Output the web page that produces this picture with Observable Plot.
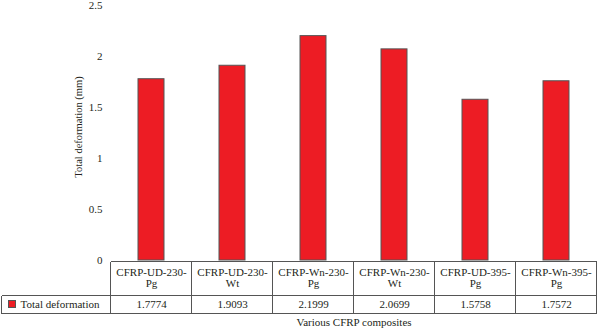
<!DOCTYPE html>
<html>
<head>
<meta charset="utf-8">
<script src="https://cdn.jsdelivr.net/npm/d3@7"></script>
<script src="https://cdn.jsdelivr.net/npm/@observablehq/plot@0.6"></script>
<style>
  html, body { margin: 0; padding: 0; background: #fff; }
</style>
</head>
<body>
<div id="chart"></div>
<script>
const categories = ["CFRP-UD-230-Pg", "CFRP-UD-230-Wt", "CFRP-Wn-230-Pg", "CFRP-Wn-230-Wt", "CFRP-UD-395-Pg", "CFRP-Wn-395-Pg"];
const headerLabels = ["CFRP-UD-230-\nPg", "CFRP-UD-230-\nWt", "CFRP-Wn-230-\nPg", "CFRP-Wn-230-\nWt", "CFRP-UD-395-\nPg", "CFRP-Wn-395-\nPg"];
const values = [1.7774, 1.9093, 2.1999, 2.0699, 1.5758, 1.7572];
const valueLabels = ["1.7774", "1.9093", "2.1999", "2.0699", "1.5758", "1.7572"];
const seriesName = "Total deformation";
const yTicks = [0, 0.5, 1, 1.5, 2, 2.5];
const yTickLabels = ["0", "0.5", "1", "1.5", "2", "2.5"];
const yTitle = "Total deformation (mm)";
const xTitle = "Various CFRP composites";

const rows = categories.map((c, i) => ({cat: c, value: values[i], header: headerLabels[i], label: valueLabels[i]}));

const barFill = "#ed1c24";
const barStroke = "#555555";
const ink = "#231f20";
const gridColor = "#555555";
const fs = 11;

const chart = Plot.plot({
  width: 600,
  height: 332,
  marginLeft: 108,
  marginRight: 1,
  marginTop: 5,
  marginBottom: 72,
  style: {fontFamily: "'Liberation Serif', 'DejaVu Serif', serif", fontSize: "11px", color: ink, background: "#fff"},
  x: {domain: categories, paddingInner: 0.68, paddingOuter: 0.34, axis: null},
  y: {domain: [0, 2.5]},
  marks: [
    Plot.axisY({ticks: yTicks, tickSize: 0, tickPadding: 6, tickFormat: d => yTickLabels[yTicks.indexOf(d)], label: null, fontSize: fs}),
    Plot.barY(rows, {x: "cat", y: "value", fill: barFill, stroke: barStroke, strokeWidth: 1}),
    Plot.text([yTitle], {frameAnchor: "left", rotate: -90, dx: -30, dy: -6, text: d => d, textAnchor: "middle", lineAnchor: "middle", fill: ink, fontSize: 10.5}),
    Plot.text(rows, {x: "cat", text: "header", frameAnchor: "bottom", lineAnchor: "middle", dy: 17.5, lineHeight: 1.05, fill: ink, fontSize: fs}),
    Plot.text(rows, {x: "cat", text: "label", frameAnchor: "bottom", lineAnchor: "middle", dy: 44, fill: ink, fontSize: fs}),
    Plot.text([seriesName], {frameAnchor: "bottom-left", text: d => d, dx: -88, dy: 44, textAnchor: "start", lineAnchor: "middle", fill: ink, fontSize: fs}),
    Plot.text([xTitle], {frameAnchor: "bottom", text: d => d, dy: 62, lineAnchor: "middle", fill: ink, fontSize: fs})
  ]
});

// table grid drawn from the x band scale
const sx = chart.scale("x");
const step = sx.step, bw = sx.bandwidth;
const svg = d3.select(chart);
const y0 = 260; // frame bottom
const colEdges = categories.map(c => sx.apply(c) + bw / 2 - step / 2);
colEdges.push(sx.apply(categories[categories.length - 1]) + bw / 2 + step / 2);
const g = svg.append("g").attr("stroke", gridColor).attr("stroke-width", 1).attr("shape-rendering", "crispEdges");
const firstX = colEdges[0], lastX = colEdges[colEdges.length - 1];
g.append("line").attr("x1", firstX).attr("x2", lastX).attr("y1", y0 + 1.5).attr("y2", y0 + 1.5);
g.append("line").attr("x1", 1.5).attr("x2", lastX).attr("y1", y0 + 35.5).attr("y2", y0 + 35.5);
g.append("line").attr("x1", 1.5).attr("x2", lastX).attr("y1", y0 + 53.5).attr("y2", y0 + 53.5);
g.append("line").attr("x1", 1.5).attr("x2", 1.5).attr("y1", y0 + 35.5).attr("y2", y0 + 53.5);
colEdges.forEach(x => {
  g.append("line").attr("x1", x).attr("x2", x).attr("y1", y0 + 1.5).attr("y2", y0 + 53.5);
});
svg.append("rect").attr("x", 8.5).attr("y", y0 + 40.5).attr("width", 7).attr("height", 7)
  .attr("fill", barFill).attr("stroke", barStroke).attr("stroke-width", 1);

document.getElementById("chart").appendChild(chart);
</script>
</body>
</html>
